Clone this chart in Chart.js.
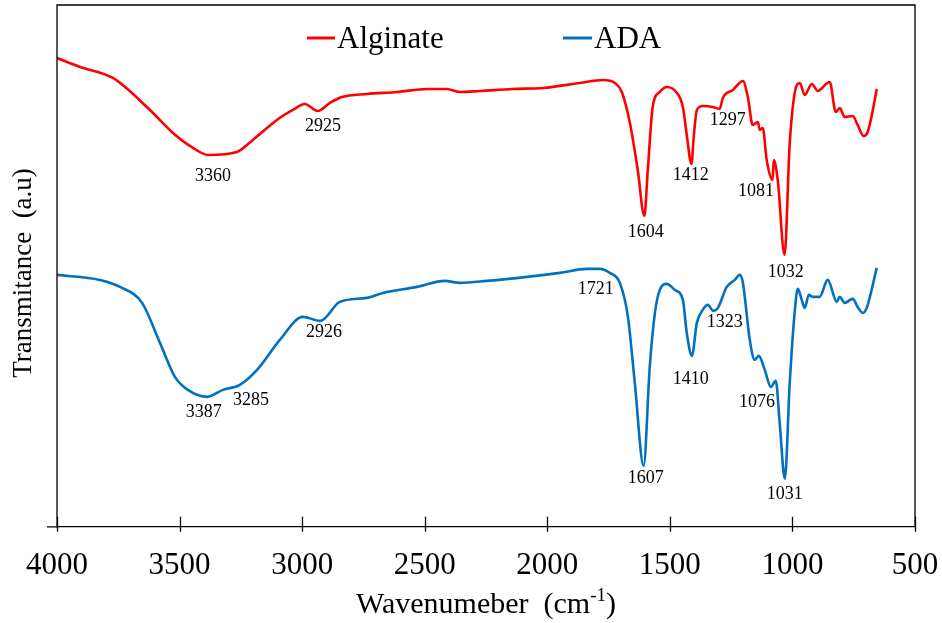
<!DOCTYPE html>
<html>
<head>
<meta charset="utf-8">
<script src="https://cdn.jsdelivr.net/npm/chart.js@4.4.0/dist/chart.umd.min.js"></script>
<style>
  html, body { margin: 0; padding: 0; background: #fff; }
  #wrap { width: 942px; height: 623px; }
</style>
</head>
<body>
<div id="wrap"><canvas id="ftir"></canvas></div>
<script>
// wavenumbers (cm-1) and transmittance (a.u.)
const alginateWn = [4000, 3906, 3772, 3621, 3527, 3445, 3384, 3266, 3201, 3103, 3038, 2989, 2936, 2887, 2838,
  2736, 2613, 2491, 2410, 2357, 2275, 2140, 2018, 1867, 1773, 1724, 1696, 1663, 1631, 1604, 1590, 1570, 1541,
  1512, 1471, 1447, 1431, 1412, 1402, 1390, 1366, 1325, 1297, 1284, 1243, 1202, 1182, 1162, 1141, 1133, 1121,
  1105, 1081, 1076, 1060, 1032, 1011, 982, 970, 950, 921, 897, 848, 823, 807, 787, 754, 734, 709, 693, 676, 656];
const alginateT = [93.8, 92.0, 89.8, 83.4, 78.8, 75.8, 74.4, 75.0, 77.4, 81.4, 83.4, 84.6, 83.2, 84.8, 86.0,
  86.6, 87.0, 87.6, 87.6, 87.0, 87.2, 87.6, 87.8, 88.8, 89.4, 88.8, 87.0, 80.8, 71.4, 62.2, 71.4, 84.0, 87.0,
  88.0, 86.8, 84.0, 78.4, 72.6, 78.4, 83.4, 84.2, 84.0, 83.6, 85.8, 87.4, 89.2, 86.0, 80.4, 81.0, 79.4, 79.8,
  73.4, 69.4, 73.4, 69.4, 54.4, 76.8, 88.4, 88.8, 86.4, 88.6, 87.2, 89.0, 83.0, 83.8, 82.0, 82.2, 80.4, 78.2, 79.0, 82.4, 87.6];

const adaWn = [4000, 3825, 3743, 3653, 3580, 3519, 3466, 3387, 3323, 3254, 3184, 3091, 2997, 2926, 2846, 2736,
  2671, 2532, 2418, 2357, 2246, 2083, 1949, 1839, 1786, 1745, 1704, 1671, 1643, 1607, 1582, 1561, 1541, 1512,
  1480, 1447, 1431, 1410, 1390, 1366, 1345, 1323, 1304, 1268, 1235, 1215, 1202, 1174, 1154, 1137, 1113, 1088,
  1068, 1052, 1031, 1011, 990, 978, 962, 950, 933, 917, 889, 856, 819, 807, 787, 754, 734, 713, 697, 656];
const adaT = [50.4, 49.4, 48.0, 44.8, 36.8, 30.0, 27.4, 26.0, 27.4, 28.4, 31.4, 37.4, 42.0, 41.2, 45.0, 45.8,
  46.8, 48.0, 49.2, 48.8, 49.2, 50.0, 50.8, 51.6, 51.6, 50.8, 48.8, 42.0, 28.8, 12.2, 32.0, 42.8, 47.4, 48.6,
  47.4, 45.4, 38.8, 34.2, 40.8, 43.4, 44.4, 43.2, 43.8, 48.0, 49.4, 50.4, 48.8, 37.4, 33.4, 34.2, 31.4, 28.0,
  29.2, 20.8, 9.6, 28.8, 43.4, 47.6, 45.4, 43.8, 46.4, 46.0, 46.0, 49.4, 45.0, 46.0, 44.8, 45.6, 44.0, 42.8, 43.8, 51.8];

const xTicks = [4000, 3500, 3000, 2500, 2000, 1500, 1000, 500];

// peak labels: text, wavenumber, transmittance where the text sits
const peakText = ["3360", "2925", "1604", "1412", "1297", "1081", "1032",
  "1721", "1607", "1410", "1323", "1076", "1031", "3387", "3285", "2926"];
const peakWn = [3364, 2915, 1598, 1415, 1264, 1149, 1027, 1802, 1598, 1415, 1276, 1145, 1031, 3401, 3209, 2911];
const peakT = [70.2, 80.2, 59.0, 70.4, 81.4, 67.2, 51.0, 47.6, 9.8, 29.6, 41.0, 25.0, 6.6, 23.0, 25.4, 39.0];

const serif = "'Liberation Serif', 'Times New Roman', serif";
const RED = "#ff0000";
const BLUE = "#0070c0";

const toPoints = (xs, ys) => xs.map((x, i) => ({ x: x, y: ys[i] }));

const decor = {
  id: "decor",
  afterDraw(chart) {
    const ctx = chart.ctx;
    const { left, right, top, bottom } = chart.chartArea;
    const xs = chart.scales.x;
    const ys = chart.scales.y;
    ctx.save();

    // frame
    ctx.strokeStyle = "#000";
    ctx.lineWidth = 1.3;
    ctx.beginPath();
    ctx.moveTo(left, bottom);
    ctx.lineTo(left, top);
    ctx.lineTo(right, top);
    ctx.lineTo(right, bottom);
    ctx.moveTo(left - 10, bottom);
    ctx.lineTo(left, bottom);
    xTicks.forEach((t) => {
      const px = Math.round(xs.getPixelForValue(t)) + 0.5;
      ctx.moveTo(px, bottom - 10);
      ctx.lineTo(px, bottom + 5);
    });
    ctx.stroke();

    // legend
    ctx.lineWidth = 3;
    ctx.strokeStyle = RED;
    ctx.beginPath(); ctx.moveTo(307, 38); ctx.lineTo(335, 38); ctx.stroke();
    ctx.strokeStyle = BLUE;
    ctx.beginPath(); ctx.moveTo(563, 38); ctx.lineTo(592, 38); ctx.stroke();
    ctx.fillStyle = "#000";
    ctx.font = "31px " + serif;
    ctx.textAlign = "left";
    ctx.textBaseline = "alphabetic";
    ctx.fillText("Alginate", 337, 48);
    ctx.fillText("ADA", 594, 48);

    // peak labels
    ctx.font = "18px " + serif;
    ctx.textAlign = "center";
    ctx.textBaseline = "middle";
    peakText.forEach((s, i) => {
      ctx.fillText(s, xs.getPixelForValue(peakWn[i]), ys.getPixelForValue(peakT[i]));
    });

    // x title with superscript
    ctx.textBaseline = "alphabetic";
    ctx.textAlign = "left";
    const a = "Wavenumeber  (cm";
    const b = ")";
    ctx.font = "30px " + serif;
    const wa = ctx.measureText(a).width;
    const wb = ctx.measureText(b).width;
    ctx.font = "19px " + serif;
    const wsup = ctx.measureText("-1").width;
    const total = wa + wsup + wb;
    const x0 = (left + right) / 2 - total / 2;
    const base = 613;
    ctx.font = "30px " + serif;
    ctx.fillText(a, x0, base);
    ctx.font = "19px " + serif;
    ctx.fillText("-1", x0 + wa, base - 12);
    ctx.font = "30px " + serif;
    ctx.fillText(b, x0 + wa + wsup, base);

    // y title
    ctx.font = "27px " + serif;
    ctx.translate(24, 273);
    ctx.rotate(-Math.PI / 2);
    ctx.textAlign = "center";
    ctx.textBaseline = "middle";
    ctx.fillText("Transmitance  (a.u)", 0, 0);
    ctx.restore();
  },
};

new Chart(document.getElementById("ftir"), {
  type: "line",
  data: {
    datasets: [
      {
        label: "Alginate",
        data: toPoints(alginateWn, alginateT),
        borderColor: RED,
        borderWidth: 2.6,
        pointRadius: 0,
        cubicInterpolationMode: "monotone",
      },
      {
        label: "ADA",
        data: toPoints(adaWn, adaT),
        borderColor: BLUE,
        borderWidth: 2.6,
        pointRadius: 0,
        cubicInterpolationMode: "monotone",
      },
    ],
  },
  options: {
    responsive: true,
    maintainAspectRatio: false,
    animation: false,
    devicePixelRatio: 1,
    layout: { padding: { left: 57, right: 27, top: 5, bottom: 19 } },
    plugins: { legend: { display: false }, tooltip: { enabled: false } },
    scales: {
      x: {
        type: "linear",
        reverse: true,
        min: 500,
        max: 4000,
        afterBuildTicks: (scale) => {
          scale.ticks = xTicks.map((v) => ({ value: v }));
        },
        afterFit: (scale) => {
          scale.paddingLeft = 0;
          scale.paddingRight = 0;
        },
        ticks: {
          color: "#000",
          font: { family: serif, size: 31 },
          padding: 20,
          maxRotation: 0,
          autoSkip: false,
          callback: (v) => String(v),
        },
        grid: { display: false, drawTicks: false },
        border: { display: true, color: "#000", width: 1.3 },
      },
      y: {
        display: false,
        min: 0,
        max: 104.4,
      },
    },
  },
  plugins: [decor],
});
</script>
</body>
</html>
